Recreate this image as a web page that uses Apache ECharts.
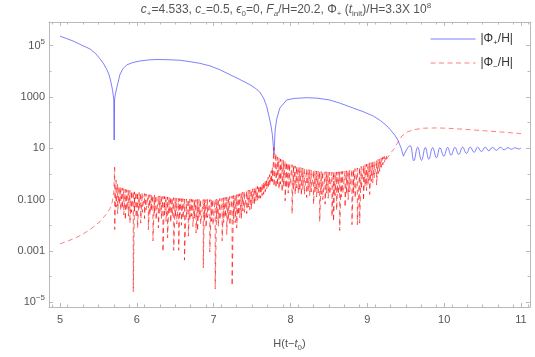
<!DOCTYPE html>
<html><head><meta charset="utf-8">
<script src="https://cdn.jsdelivr.net/npm/echarts@6/dist/echarts.min.js"></script>
<style>html,body{margin:0;padding:0;background:#fff}#c{width:535px;height:357px}</style>
</head><body><div id="c"></div>
<script>
// ---- axis ticks ----
const xTickValues = [5, 6, 7, 8, 9, 10, 11];
const yTickExponents = [-5, -3, -1, 1, 3, 5];
const yTickLabels = ['10{sp|−5}', '0.001', '0.100', '10', '1000', '10{sp|5}'];
const yMinorExponents = [-4, -2, 0, 2, 4];

// ---- |Φ+/H| : [H(t-t0), log10 value] ----
const phiPlus = [
 [5.00,5.37],[5.08,5.28],[5.17,5.18],[5.28,5.02],[5.39,4.87],[5.46,4.70],[5.52,4.49],[5.57,4.28],
 [5.61,4.06],[5.64,3.85],[5.66,3.62],[5.685,3.25],[5.70,2.88],[5.705,1.32],[5.71,2.88],[5.72,3.10],
 [5.74,3.37],[5.78,3.87],[5.82,4.10],[5.87,4.25],[5.95,4.34],[6.04,4.40],[6.15,4.44],[6.26,4.46],
 [6.40,4.45],[6.56,4.43],[6.70,4.37],[6.82,4.31],[6.95,4.21],[7.08,4.06],[7.21,3.87],[7.34,3.68],
 [7.47,3.48],[7.55,3.32],[7.60,3.19],[7.65,2.95],[7.69,2.63],[7.72,2.25],[7.745,1.90],[7.765,1.50],
 [7.785,0.76],[7.80,1.70],[7.82,2.13],[7.86,2.56],[7.95,2.88],[8.05,2.94],[8.21,2.97],[8.35,2.95],
 [8.51,2.88],[8.65,2.75],[8.82,2.56],[8.95,2.42],[9.08,2.25],[9.17,2.08],[9.25,1.88],[9.30,1.72],
 [9.36,1.50],[9.40,1.30],[9.44,1.00],[9.47,0.69]
];
// ---- |Φ+/H| : damped oscillation tail (peaks and troughs) ----
const phiPlusTail = [
 [9.47,0.69],[9.555,1.10],[9.605,0.51],[9.655,1.04],[9.705,0.53],[9.755,1.03],[9.80,0.57],[9.85,1.02],[9.90,0.63],
 [9.945,1.02],[9.995,0.69],[10.045,1.03],[10.09,0.73],[10.14,1.03],[10.19,0.76],[10.24,1.04],[10.29,0.80],
 [10.34,1.04],[10.39,0.84],[10.435,1.04],[10.485,0.87],[10.535,1.04],[10.58,0.90],[10.63,1.03],[10.68,0.92],
 [10.73,1.03],[10.78,0.94],[10.83,1.02],[10.875,0.96],[10.925,1.02],[10.97,0.97],[11.0,1.00]
];

// ---- |Φ-/H| : smooth part before the oscillations ----
const phiMinusLeft = [
 [5.00,-2.73],[5.10,-2.62],[5.20,-2.50],[5.28,-2.38],[5.40,-2.15],[5.52,-1.86],[5.60,-1.58],
 [5.65,-1.36],[5.68,-1.10],[5.70,-0.70],[5.712,0.26]
];
// ---- |Φ-/H| : rapidly oscillating part, [x, upper value, lower value] ----
const phiMinusSpikes = [
 [5.712,0.26,-2.17],[5.73,-0.25,-1.30],[5.75,-0.40,-1.55],[5.77,-0.48,-1.20],[5.79,-0.52,-1.42],
 [5.81,-0.55,-1.35],[5.83,-0.58,-1.60],[5.85,-0.60,-1.80],[5.87,-0.62,-1.40],[5.89,-0.63,-1.65],
 [5.91,-0.65,-1.92],[5.93,-0.67,-1.50],[5.954,-0.68,-4.60],[5.97,-0.70,-1.45],[5.99,-0.71,-1.70],
 [6.01,-0.72,-2.11],[6.03,-0.73,-1.35],[6.05,-0.74,-1.92],[6.07,-0.75,-1.50],[6.10,-0.77,-1.74],
 [6.12,-0.78,-1.40],[6.15,-0.80,-2.17],[6.17,-0.81,-1.60],[6.19,-0.82,-1.45],[6.21,-0.83,-2.61],
 [6.23,-0.83,-1.55],[6.25,-0.84,-1.80],[6.28,-0.86,-2.11],[6.30,-0.86,-1.50],[6.32,-0.87,-1.75],
 [6.34,-0.88,-3.04],[6.36,-0.88,-1.60],[6.38,-0.89,-1.85],[6.40,-0.90,-2.49],[6.42,-0.90,-1.55],
 [6.44,-0.91,-1.90],[6.46,-0.92,-1.65],[6.48,-0.93,-2.98],[6.50,-0.94,-1.70],[6.52,-0.95,-1.95],
 [6.545,-0.96,-2.98],[6.56,-0.96,-1.60],[6.58,-0.97,-2.00],[6.60,-0.97,-1.75],[6.62,-0.98,-3.36],
 [6.645,-0.98,-1.70],[6.67,-0.99,-2.43],[6.69,-0.99,-1.80],[6.71,-0.99,-1.65],[6.73,-1.00,-2.05],
 [6.75,-1.00,-1.75],[6.77,-1.00,-2.30],[6.79,-1.00,-2.23],[6.81,-1.00,-1.70],[6.83,-1.00,-1.95],
 [6.865,-1.00,-3.67],[6.88,-1.00,-1.80],[6.90,-1.00,-2.10],[6.92,-1.00,-1.70],[6.95,-1.00,-3.04],
 [6.97,-0.99,-1.85],[6.99,-0.99,-2.00],[7.02,-0.99,-4.48],[7.04,-0.98,-1.75],[7.06,-0.97,-2.05],
 [7.08,-0.96,-1.80],[7.11,-0.95,-2.61],[7.13,-0.93,-1.90],[7.15,-0.92,-1.70],[7.17,-0.91,-2.36],
 [7.19,-0.90,-1.80],[7.21,-0.88,-2.00],[7.24,-0.86,-4.36],[7.26,-0.84,-1.75],[7.28,-0.83,-1.90],
 [7.30,-0.81,-2.11],[7.32,-0.80,-1.60],[7.34,-0.77,-1.70],[7.36,-0.74,-1.74],[7.38,-0.71,-1.45],
 [7.40,-0.69,-1.50],[7.43,-0.66,-1.55],[7.45,-0.64,-1.30],[7.47,-0.63,-1.40],[7.49,-0.62,-1.36],
 [7.51,-0.58,-1.15],[7.53,-0.55,-1.20],[7.55,-0.52,-1.05],[7.57,-0.49,-1.05],[7.59,-0.46,-0.95],
 [7.61,-0.44,-0.95],[7.63,-0.40,-0.85],[7.65,-0.33,-0.80],[7.67,-0.27,-0.70],[7.69,-0.20,-0.60],
 [7.71,-0.12,-0.55],[7.73,-0.02,-0.45],[7.75,0.12,-0.35],[7.765,0.25,-0.30],[7.785,1.02,-0.49],
 [7.81,0.80,-0.55],[7.83,0.66,-0.45],[7.85,0.62,-0.60],[7.87,0.58,-0.40],[7.89,0.55,-0.70],
 [7.91,0.52,-0.50],[7.93,0.49,-1.05],[7.95,0.46,-0.55],[7.97,0.43,-0.75],[7.99,0.40,-0.50],
 [8.02,0.36,-1.55],[8.04,0.34,-0.60],[8.06,0.31,-0.80],[8.08,0.29,-0.55],[8.10,0.27,-0.75],
 [8.12,0.25,-0.67],[8.14,0.24,-0.85],[8.16,0.22,-0.60],[8.18,0.20,-0.80],[8.21,0.18,-0.92],
 [8.23,0.17,-0.65],[8.25,0.16,-0.85],[8.27,0.15,-0.70],[8.30,0.13,-1.18],[8.32,0.12,-0.70],
 [8.34,0.11,-0.90],[8.36,0.10,-0.75],[8.38,0.10,-1.86],[8.40,0.09,-0.80],[8.42,0.09,-1.00],
 [8.45,0.08,-1.18],[8.47,0.08,-0.75],[8.49,0.07,-0.95],[8.51,0.07,-0.80],[8.54,0.07,-1.67],
 [8.56,0.07,-1.86],[8.58,0.07,-0.85],[8.60,0.07,-1.42],[8.62,0.08,-0.80],[8.64,0.08,-2.21],
 [8.66,0.09,-0.90],[8.68,0.10,-0.75],[8.71,0.11,-1.30],[8.73,0.12,-0.80],[8.75,0.13,-1.00],
 [8.77,0.14,-0.70],[8.80,0.17,-1.98],[8.82,0.18,-0.75],[8.84,0.20,-0.95],[8.87,0.23,-1.98],
 [8.90,0.26,-1.92],[8.92,0.29,-0.60],[8.95,0.33,-1.05],[8.97,0.36,-0.50],[8.99,0.38,-0.65],
 [9.01,0.40,-0.40],[9.03,0.43,-0.80],[9.05,0.45,-0.30],[9.07,0.47,-0.35],[9.09,0.49,-0.15],
 [9.12,0.53,-0.43],[9.14,0.56,0.00],[9.16,0.59,0.10],[9.18,0.62,0.25],[9.20,0.65,0.35],
 [9.22,0.68,0.45],[9.25,0.73,0.57]
];
// ---- |Φ-/H| : smooth part after the oscillations ----
const phiMinusRight = [
 [9.25,0.57],[9.30,0.80],[9.35,0.98],[9.40,1.25],[9.45,1.48],[9.52,1.63],[9.60,1.72],[9.73,1.78],[9.90,1.79],
 [10.03,1.78],[10.25,1.74],[10.47,1.69],[10.75,1.63],[11.0,1.57]
];

// ---- build series data ----
const phiMinusDense = [];
phiMinusSpikes.forEach(s => { phiMinusDense.push([s[0], s[1]]); phiMinusDense.push([s[0], s[2]]); });

const xMinor = [];
for (let v = 4.9; v < 11.15; v += 0.2) {
  const r = Math.round(v * 10) / 10;
  if (Math.abs(r - Math.round(r)) > 1e-6) xMinor.push(r);
}

const FONT = 'Liberation Sans';
const frameColor = '#b9b9b9';
const labelColor = '#555';
const blue = 'rgba(50,50,255,0.62)';
const redLight = 'rgba(255,0,0,0.5)';
const redDense = 'rgba(255,0,0,0.64)';
const redDash = [5, 3.5];
const xMin = 4.857, xMax = 11.117, yMin = -5.19, yMax = 5.92;

function xAx(pos, major, showLabel) {
  return {
    type: 'value', min: xMin, max: xMax, position: pos,
    axisLine: { show: major, onZero: false, lineStyle: { color: frameColor, width: 1 } },
    axisTick: { show: true, inside: true, length: major ? 4 : 2.5, customValues: major ? xTickValues : xMinor,
                lineStyle: { color: frameColor } },
    axisLabel: showLabel ? { show: true, customValues: xTickValues, margin: 7, fontSize: 11, color: labelColor, fontFamily: FONT }
                         : { show: false },
    splitLine: { show: false }
  };
}
function yAx(pos, major, showLabel) {
  return {
    type: 'value', min: yMin, max: yMax, position: pos,
    axisLine: { show: major, onZero: false, lineStyle: { color: frameColor, width: 1 } },
    axisTick: { show: true, inside: true, length: major ? 4 : 2.5, customValues: major ? yTickExponents : yMinorExponents,
                lineStyle: { color: frameColor } },
    axisLabel: showLabel ? {
      show: true, customValues: yTickExponents, margin: 4, fontSize: 11, color: labelColor, fontFamily: FONT,
      lineHeight: 16,
      formatter: v => { const i = yTickExponents.indexOf(Math.round(v)); return i >= 0 ? yTickLabels[i] : ''; },
      rich: { sp: { fontSize: 8, lineHeight: 10, verticalAlign: 'top', color: labelColor, fontFamily: FONT } }
    } : { show: false },
    splitLine: { show: false }
  };
}

const xA = [xAx('bottom', true, true), xAx('bottom', false, false), xAx('top', true, false), xAx('top', false, false)];
xA[0].name = 'H(t−{i|t}{sb|0})';
xA[0].nameLocation = 'middle';
xA[0].nameGap = 29;
xA[0].nameTextStyle = { fontSize: 11, color: labelColor, fontFamily: FONT, lineHeight: 16,
  rich: { i: { fontStyle: 'italic', fontSize: 11, color: labelColor, fontFamily: FONT, lineHeight: 16 },
          sb: { fontSize: 8, lineHeight: 10, verticalAlign: 'bottom', color: labelColor, fontFamily: FONT } } };
const yA = [yAx('left', true, true), yAx('right', true, false), yAx('left', false, false), yAx('right', false, false)];

const titleRich = {
  i: { fontStyle: 'italic', fontSize: 12, color: '#555', fontFamily: FONT, lineHeight: 16 },
  sb: { fontSize: 8, lineHeight: 10, verticalAlign: 'bottom', color: '#555', fontFamily: FONT },
  sbi: { fontSize: 8, lineHeight: 10, verticalAlign: 'bottom', fontStyle: 'italic', color: '#555', fontFamily: FONT },
  sp: { fontSize: 8, lineHeight: 10, verticalAlign: 'top', color: '#555', fontFamily: FONT }
};

const chart = echarts.init(document.getElementById('c'), null, { renderer: 'canvas' });
chart.setOption({
  animation: false,
  backgroundColor: '#fff',
  title: {
    text: '{i|c}{sb|+}=4.533, {i|c}{sb|−}=0.5, {i|ϵ}{sb|0}=0, {i|F}{sbi|a}/H=20.2, Φ{sb|+} ({i|t}{sb|init})/H=3.3X 10{sp|8}',
    left: 286, top: 2, textAlign: 'center', padding: 0,
    textStyle: { fontSize: 12, fontWeight: 'normal', color: '#555', fontFamily: FONT, lineHeight: 16, rich: titleRich }
  },
  legend: {
    orient: 'vertical', left: 430, top: 31, padding: 0, itemGap: 8, itemWidth: 45, itemHeight: 14,
    data: ['phiPlus', 'phiMinus'],
    itemStyle: { opacity: 0, borderWidth: 0 },
    lineStyle: { width: 1 },
    formatter: n => n === 'phiPlus' ? '|Φ{sb|+}/H|' : '|Φ{sb|−}/H|',
    textStyle: { fontSize: 12, color: '#333', fontFamily: FONT, lineHeight: 16,
      rich: { sb: { fontSize: 8, lineHeight: 10, verticalAlign: 'bottom', color: '#333', fontFamily: FONT } } }
  },
  grid: { left: 49, right: 5, top: 22, bottom: 38, containLabel: false, show: false },
  xAxis: xA,
  yAxis: yA,
  series: [
    { name: 'phiPlus', type: 'line', data: phiPlus, showSymbol: false, symbol: 'none',
      lineStyle: { color: blue, width: 1 }, itemStyle: { color: blue } },
    { name: 'phiPlus', type: 'line', data: phiPlusTail, showSymbol: false, symbol: 'none', smooth: 0.45,
      lineStyle: { color: blue, width: 1 }, itemStyle: { color: blue } },
    { name: 'phiMinus', type: 'line', data: phiMinusLeft, showSymbol: false, symbol: 'none',
      lineStyle: { color: redLight, width: 1, type: redDash }, itemStyle: { color: redLight } },
    { name: 'phiMinus', type: 'line', data: phiMinusDense, showSymbol: false, symbol: 'none',
      lineStyle: { color: redDense, width: 1, type: redDash }, itemStyle: { color: redDense } },
    { name: 'phiMinus', type: 'line', data: phiMinusRight, showSymbol: false, symbol: 'none',
      lineStyle: { color: redLight, width: 1, type: redDash }, itemStyle: { color: redLight } }
  ]
});
</script></body></html>
